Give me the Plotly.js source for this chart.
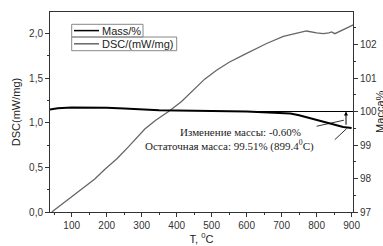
<!DOCTYPE html>
<html>
<head>
<meta charset="utf-8">
<script src="https://cdn.plot.ly/plotly-3.0.1.min.js"></script>
<style>html,body{margin:0;padding:0;background:#fff;}#chart{width:383px;height:246px;}</style>
</head>
<body>
<div id="chart"></div>
<script>
// Series names
const seriesNames = ["Mass/%", "DSC/(mW/mg)"];
// Mass curve (right axis, %)
const massT = [38, 60, 100, 150, 200, 250, 300, 350, 400, 450, 500, 550, 600, 650, 700, 725, 750, 780, 800, 830, 850, 876, 900];
const massV = [100.06, 100.10, 100.12, 100.12, 100.11, 100.09, 100.06, 100.04, 100.03, 100.03, 100.02, 100.01, 100.00, 99.98, 99.97, 99.94, 99.89, 99.81, 99.75, 99.66, 99.61, 99.54, 99.51];
// DSC curve (left axis, mW/mg)
const dscT = [43, 60, 100, 130, 166, 195, 230, 262, 309, 340, 378, 414, 450, 480, 514, 550, 590, 620, 657, 705, 740, 771, 800, 819, 835, 843, 852, 870, 890, 905];
const dscV = [0.00, 0.05, 0.17, 0.26, 0.37, 0.48, 0.60, 0.73, 0.93, 1.03, 1.13, 1.24, 1.38, 1.49, 1.59, 1.68, 1.76, 1.82, 1.89, 1.97, 2.00, 2.03, 2.01, 2.00, 2.01, 2.02, 2.00, 2.03, 2.07, 2.10];
// Annotation texts
const noteChange = "Изменение массы: -0.60%";
const noteResidue = "Остаточная масса: 99.51% (899.4<sup>0</sup>C)";
const rightTitle = "Масса%";
const refLevel = 100;

const traces = [
  {x: massT, y: massV, yaxis: 'y2', mode: 'lines', name: seriesNames[0], line: {color: '#000', width: 2}, showlegend: false},
  {x: dscT, y: dscV, yaxis: 'y', mode: 'lines', name: seriesNames[1], line: {color: '#666', width: 1.3}, showlegend: false}
];

const W = 303, H = 200, L = 50, B = 212;
const px = x => (x - L) / W;
const py = y => (B - y) / H;

const tickFont = {family: 'Liberation Sans, Arial, sans-serif', size: 10, color: '#333'};
const layout = {
  width: 383, height: 246,
  margin: {l: 50, r: 30, t: 12, b: 34},
  paper_bgcolor: '#fff', plot_bgcolor: '#fff',
  separators: ',.',
  showlegend: false,
  xaxis: {
    range: [38, 904], tick0: 0, dtick: 100, ticks: 'outside', ticklen: 4, tickcolor: '#333',
    minor: {dtick: 50, ticks: 'outside', ticklen: 2, tickcolor: '#333'},
    showline: true, linecolor: '#333', linewidth: 1, mirror: true, showgrid: false, zeroline: false,
    tickfont: tickFont,
    title: {text: 'T, <sup>0</sup>C', font: {family: 'Liberation Sans, Arial, sans-serif', size: 11, color: '#222'}, standoff: 4}
  },
  yaxis: {
    range: [0, 2.243], tick0: 0, dtick: 0.5, tickformat: '.1f', ticks: 'outside', ticklen: 4, tickcolor: '#333',
    minor: {dtick: 0.25, ticks: 'outside', ticklen: 2, tickcolor: '#333'},
    showline: true, linecolor: '#333', linewidth: 1, showgrid: false, zeroline: false,
    tickfont: tickFont,
    title: {text: 'DSC(mW/mg)', font: {family: 'Liberation Sans, Arial, sans-serif', size: 11, color: '#222'}, standoff: 6}
  },
  yaxis2: {
    overlaying: 'y', side: 'right', range: [97, 102.97], dtick: 1, ticks: 'outside', ticklen: 4, tickcolor: '#333',
    minor: {dtick: 0.5, ticks: 'outside', ticklen: 2, tickcolor: '#333'},
    showline: true, linecolor: '#333', linewidth: 1, showgrid: false, zeroline: false,
    tickfont: tickFont
  },
  shapes: [
    {type: 'line', xref: 'x', yref: 'y2', x0: 500, x1: 904, y0: refLevel, y1: refLevel, line: {color: '#000', width: 1}},
    {type: 'line', xref: 'x', yref: 'y2', x0: 800, y0: 99.56, x1: 878, y1: 99.74, line: {color: '#000', width: 0.8}},
    {type: 'line', xref: 'x', yref: 'y2', x0: 852, y0: 99.16, x1: 886, y1: 99.49, line: {color: '#000', width: 0.8}},
    // legend boxes
    {type: 'rect', xref: 'paper', yref: 'paper', x0: px(71.7), x1: px(143), y0: py(37), y1: py(24.3), line: {color: '#888', width: 1}},
    {type: 'rect', xref: 'paper', yref: 'paper', x0: px(71.7), x1: px(176.7), y0: py(50.7), y1: py(37), line: {color: '#888', width: 1}},
    {type: 'line', xref: 'paper', yref: 'paper', x0: px(74), x1: px(99), y0: py(30.6), y1: py(30.6), line: {color: '#000', width: 1.5}},
    {type: 'line', xref: 'paper', yref: 'paper', x0: px(74), x1: px(99), y0: py(43.8), y1: py(43.8), line: {color: '#666', width: 1.5}}
  ],
  annotations: [
    {xref: 'paper', yref: 'paper', x: px(100), y: py(30.6), xanchor: 'left', yanchor: 'middle', showarrow: false, text: seriesNames[0],
     font: {family: 'Liberation Sans, Arial, sans-serif', size: 11, color: '#222'}},
    {xref: 'paper', yref: 'paper', x: px(100), y: py(43.8), xanchor: 'left', yanchor: 'middle', showarrow: false, text: seriesNames[1],
     font: {family: 'Liberation Sans, Arial, sans-serif', size: 11, color: '#222'}},
    {xref: 'paper', yref: 'paper', x: px(240), y: py(131.5), xanchor: 'center', yanchor: 'middle', showarrow: false, text: noteChange,
     font: {family: 'Liberation Serif, Times New Roman, serif', size: 11, color: '#222'}},
    {xref: 'paper', yref: 'paper', x: px(229), y: py(145), xanchor: 'center', yanchor: 'middle', showarrow: false, text: noteResidue,
     font: {family: 'Liberation Serif, Times New Roman, serif', size: 11, color: '#222'}},
    {xref: 'paper', yref: 'paper', x: px(380), y: py(112), xanchor: 'center', yanchor: 'middle', showarrow: false, text: rightTitle,
     textangle: -90, font: {family: 'Liberation Sans, Arial, sans-serif', size: 11, color: '#222'}},
    {xref: 'x', yref: 'y2', x: 884, y: refLevel, axref: 'x', ayref: 'y2', ax: 884, ay: 99.56, showarrow: true,
     arrowhead: 2, arrowsize: 0.8, arrowwidth: 1, arrowcolor: '#000', text: ''}
  ]
};

Plotly.newPlot('chart', traces, layout, {displayModeBar: false, staticPlot: true});
</script>
</body>
</html>
